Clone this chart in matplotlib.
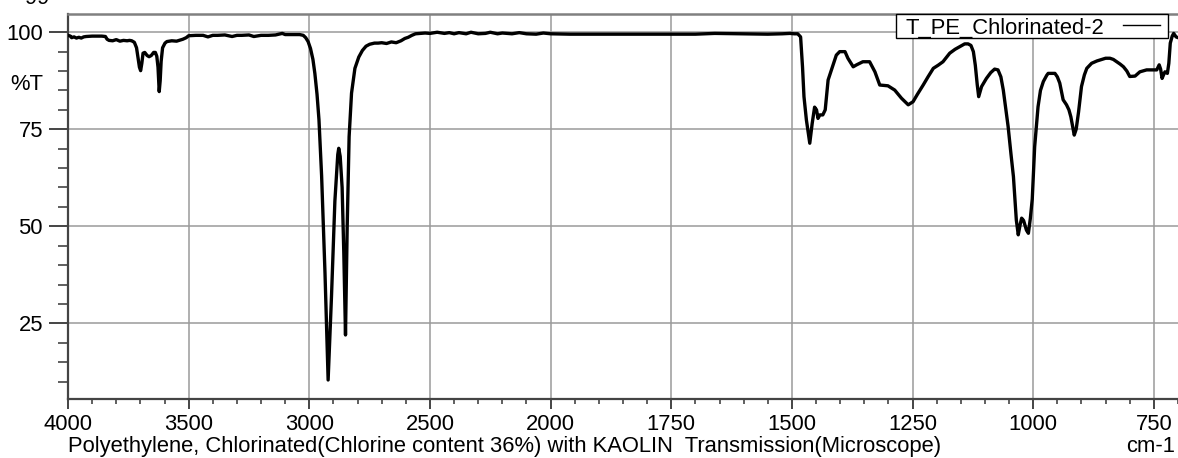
import numpy as np
import matplotlib
matplotlib.use("Agg")
import matplotlib.pyplot as plt
from matplotlib.patches import Rectangle
from matplotlib.lines import Line2D
from matplotlib.ticker import FixedLocator

plt.rcParams['font.family'] = ['Liberation Sans', 'DejaVu Sans']

# ---------------- data ----------------
wavenumber = [
    4000, 3990, 3985, 3975, 3965, 3955, 3945, 3935, 3925, 3900, 3880, 3860, 3845,
    3838, 3830, 3815, 3800, 3785, 3770, 3755, 3745, 3736, 3725, 3716, 3710, 3704,
    3699, 3694, 3689, 3682, 3672, 3664, 3655, 3645, 3638, 3632, 3627, 3622, 3618,
    3614, 3608, 3598, 3590, 3570, 3550, 3535, 3524, 3510, 3500, 3470, 3440, 3420,
    3400, 3380, 3350, 3320, 3300, 3280, 3250, 3230, 3200, 3170, 3140, 3120, 3112,
    3100, 3070, 3040, 3025, 3015, 3005, 2995, 2985, 2977, 2968, 2960, 2949, 2935,
    2922, 2908, 2894, 2882, 2878, 2872, 2864, 2857, 2850, 2843, 2835, 2825, 2811,
    2795, 2780, 2765, 2750, 2730, 2715, 2700, 2680, 2660, 2640, 2620, 2604, 2590,
    2575, 2560, 2540, 2520, 2500, 2470, 2440, 2420, 2400, 2380, 2350, 2330, 2300,
    2270, 2250, 2220, 2200, 2160, 2130, 2100, 2060, 2030, 2000, 1960, 1900, 1800,
    1700, 1660, 1600, 1550, 1520, 1504, 1495, 1488, 1482, 1478, 1475, 1470, 1463,
    1458, 1453, 1449, 1446, 1442, 1436, 1431, 1425, 1418, 1408, 1401, 1390, 1384,
    1373, 1366, 1353, 1339, 1328, 1318, 1301, 1287, 1273, 1259, 1249, 1240, 1228,
    1218, 1207, 1197, 1187, 1173, 1162, 1152, 1142, 1135, 1129, 1124, 1120, 1116,
    1113, 1107, 1097, 1088, 1080, 1073, 1067, 1062, 1057, 1052, 1046, 1041, 1035,
    1031, 1027, 1024, 1020, 1014, 1010, 1006, 1002, 997, 990, 985, 979, 972, 969,
    955, 950, 945, 938, 931, 926, 922, 918, 915, 911, 906, 900, 894, 889, 879,
    868, 858, 850, 841, 834, 827, 820, 813, 806, 800, 789, 779, 765, 755, 744,
    739, 736, 733, 730, 727, 722, 719, 716, 712, 709, 704, 700,
]
transmittance = [
    99.2, 99.0, 98.6, 98.8, 98.5, 98.7, 98.5, 98.8, 98.9, 99.0, 99.0, 99.0, 98.9,
    98.2, 97.9, 97.8, 98.1, 97.7, 97.9, 97.8, 97.9, 97.8, 97.4, 96.0, 93.5, 91.0,
    90.1, 92.0, 94.6, 94.8, 94.0, 93.7, 94.0, 94.8, 94.8, 93.8, 91.0, 84.7, 87.5,
    92.5, 96.0, 97.2, 97.6, 97.8, 97.7, 98.0, 98.2, 98.6, 99.1, 99.2, 99.2, 98.8,
    99.2, 99.2, 99.3, 98.9, 99.2, 99.2, 99.3, 98.9, 99.2, 99.2, 99.3, 99.6, 99.7,
    99.4, 99.4, 99.4, 99.2, 98.6, 97.6, 95.8, 93.0, 89.4, 84.0, 77.5, 63.0, 38.0,
    10.4, 32.0, 56.5, 68.5, 70.1, 68.0, 60.0, 43.1, 22.0, 49.9, 73.1, 84.3, 90.7,
    93.6, 95.3, 96.4, 96.9, 97.2, 97.2, 97.3, 97.1, 97.5, 97.3, 97.8, 98.4, 98.7,
    99.2, 99.6, 99.7, 99.8, 99.7, 100.0, 99.7, 99.9, 99.6, 99.9, 99.6, 100.0, 99.6,
    99.7, 100.0, 99.6, 99.8, 99.6, 99.9, 99.6, 99.5, 99.8, 99.6, 99.5, 99.5, 99.5,
    99.5, 99.7, 99.6, 99.5, 99.6, 99.7, 99.6, 99.6, 98.8, 91.0, 83.4, 77.4, 71.4,
    76.5, 80.7, 80.0, 77.8, 78.7, 78.7, 80.0, 87.7, 90.3, 94.1, 95.0, 95.0, 93.3,
    91.1, 91.6, 92.4, 92.4, 89.8, 86.4, 86.2, 85.1, 83.0, 81.3, 82.1, 84.0, 86.4,
    88.5, 90.7, 91.5, 92.4, 94.6, 95.6, 96.3, 97.0, 97.0, 96.6, 95.0, 91.5, 86.5,
    83.4, 86.0, 88.1, 89.6, 90.5, 90.3, 88.5, 85.1, 80.5, 75.7, 68.5, 62.8, 51.6,
    47.8, 50.5, 52.1, 51.5, 49.0, 48.2, 52.0, 57.0, 70.5, 80.8, 85.0, 87.3, 88.9,
    89.4, 89.4, 88.5, 86.9, 82.6, 81.3, 80.0, 78.2, 75.5, 73.5, 75.0, 79.5, 86.0,
    89.0, 90.7, 92.0, 92.6, 93.0, 93.3, 93.3, 93.0, 92.4, 91.8, 91.1, 90.0, 88.6,
    88.7, 89.8, 90.3, 90.3, 90.3, 91.6, 90.5, 88.1, 89.0, 89.8, 89.4, 92.0, 97.2,
    99.0, 99.7, 98.8, 98.6,
]

major_ticks = [4000, 3500, 3000, 2500, 2000, 1750, 1500, 1250, 1000, 750]
ytick_values = [100, 75, 50, 25]
legend_label = "T_PE_Chlorinated-2"
x_title = "Polyethylene, Chlorinated(Chlorine content 36%) with KAOLIN  Transmission(Microscope)"
x_unit = "cm-1"
y_unit = "%T"

# ---------------- figure ----------------
W, H = 1178, 458
PT = 0.72  # points per pixel at dpi 100
AX_L, AX_T, AX_B = 68, 14, 399
AW, AH = W - AX_L, AX_B - AX_T
fig = plt.figure(figsize=(W / 100, H / 100), dpi=100)
ax = fig.add_axes([AX_L / W, 1 - AX_B / H, AW / W, AH / H])


def fwd(x):
    x = np.asarray(x, dtype=float)
    return np.where(x >= 2000, x / 500.0, 4.0 + (x - 2000.0) / 250.0)


def inv(y):
    y = np.asarray(y, dtype=float)
    return np.where(y >= 4, y * 500.0, 2000.0 + (y - 4.0) * 250.0)


ax.set_xscale('function', functions=(fwd, inv))
ax.set_xlim(4000, 700)
ax.set_ylim(5.5, 104.7)

line, = ax.plot(wavenumber, transmittance, color='black', lw=2.4,
                solid_joinstyle='round', solid_capstyle='round', zorder=3,
                label=legend_label)

minor_x = [v for v in range(3900, 2000, -100) if v % 500 != 0] + \
          [v for v in range(1950, 699, -50) if v % 250 != 0]
ax.xaxis.set_major_locator(FixedLocator(major_ticks))
ax.xaxis.set_minor_locator(FixedLocator(minor_x))
ax.set_xticklabels([str(v) for v in major_ticks])

minor_y = [v for v in range(10, 101, 5) if v % 25 != 0]
ax.yaxis.set_major_locator(FixedLocator(ytick_values))
ax.yaxis.set_minor_locator(FixedLocator(minor_y))
ax.set_yticklabels([str(v) for v in ytick_values])

ax.grid(True, which='major', color='#9a9a9a', lw=1.1)
ax.set_axisbelow(True)

FS = 15.8
ax.tick_params(axis='x', which='major', length=10 * PT, width=1.4, color='#444444',
               labelsize=FS, pad=5 * PT, direction='out')
ax.tick_params(axis='x', which='minor', length=5 * PT, width=1.2, color='#444444',
               direction='out')
ax.tick_params(axis='y', which='major', length=19 * PT, width=1.4, color='#444444',
               labelsize=FS, pad=6 * PT, direction='out')
ax.tick_params(axis='y', which='minor', length=10 * PT, width=1.2, color='#444444',
               direction='out')

for s in ['left', 'bottom']:
    ax.spines[s].set_color('#444444')
    ax.spines[s].set_linewidth(1.6)
ax.spines['top'].set_color('#808080')
ax.spines['top'].set_linewidth(1.8)
ax.spines['right'].set_visible(False)

# %T label placed among the y tick labels
ax.text(-25 / AW, 86.5, y_unit, transform=ax.get_yaxis_transform(),
        ha='right', va='center', fontsize=FS)


# legend box (drawn in axes fraction from pixel positions)
def px(xp, yp):
    return ((xp - AX_L) / AW, (AX_B - yp) / AH)


x0, y0 = px(896, 38)
x1, y1 = px(1168, 14)
ax.add_patch(Rectangle((x0, y0), x1 - x0, y1 - y0, transform=ax.transAxes,
                       facecolor='white', edgecolor='black', lw=1.0, zorder=5,
                       clip_on=False))
tx, ty = px(905, 34)
ax.text(tx, ty, legend_label, transform=ax.transAxes, ha='left', va='baseline',
        fontsize=FS, zorder=6)
la, lb = px(1123, 25)
lc, _ = px(1160, 25)
ax.add_line(Line2D([la, lc], [lb, lb], transform=ax.transAxes, color='black',
                   lw=1.0, zorder=6))

# bottom titles
fig.text(68 / W, 1 - 452 / H, x_title, ha='left', va='baseline', fontsize=FS)
fig.text(1175 / W, 1 - 452 / H, x_unit, ha='right', va='baseline', fontsize=FS)

# partially visible text at the very top
fig.text(25 / W, 1 - 3.5 / H, "99", ha='left', va='baseline', fontsize=FS)

fig.savefig("out.png", dpi=100)
